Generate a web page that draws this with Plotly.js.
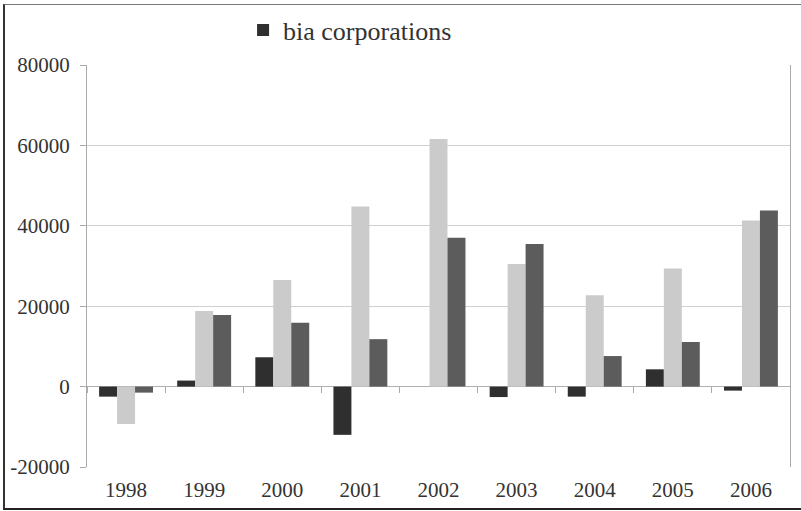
<!DOCTYPE html>
<html>
<head>
<meta charset="utf-8">
<script src="https://cdn.plot.ly/plotly-3.0.1.min.js"></script>
<style>
html,body{margin:0;padding:0;background:#fff;}
#wrap{position:relative;width:801px;height:511px;overflow:hidden;}
#chart{width:801px;height:511px;}
#frame{position:absolute;left:3px;top:4px;width:810px;height:506px;border-left:2px solid #333;border-top:1.5px solid #777;border-bottom:2px solid #222;pointer-events:none;box-sizing:border-box;}
</style>
</head>
<body>
<div id="wrap"><div id="chart"></div><div id="frame"></div></div>
<script>
// Data
const years = ["1998","1999","2000","2001","2002","2003","2004","2005","2006"];
const seriesDark   = [-2500, 1500, 7300, -12000, 0, -2600, -2500, 4300, -1000];
const seriesLight  = [-9300, 18800, 26500, 44800, 61600, 30500, 22700, 29400, 41300];
const seriesMedium = [-1500, 17800, 15900, 11800, 37000, 35500, 7600, 11100, 43800];
const seriesNames  = ["bia corporations", "series 2", "series 3"];
const yTickVals  = [-20000, 0, 20000, 40000, 60000, 80000];
const yTickText  = ["-20000", "0", "20000", "40000", "60000", "80000"];
const zeroRow    = years.map(() => 0);

const FONT = "Liberation Serif, Times New Roman, serif";

const traces = [
  {type:"bar", x:years, y:seriesDark, name:seriesNames[0], marker:{color:"#2f2f2f"}, showlegend:true},
  {type:"bar", x:years, y:seriesLight, name:seriesNames[1], marker:{color:"#cbcbcb"}, showlegend:false},
  {type:"bar", x:years, y:seriesMedium, name:seriesNames[2], marker:{color:"#5c5c5c"}, showlegend:false},
  {type:"scatter", mode:"none", x:years, y:zeroRow, xaxis:"x2", yaxis:"y", showlegend:false, hoverinfo:"skip"}
];

const layout = {
  width:801, height:511,
  margin:{l:87, r:11, t:65, b:44, autoexpand:false},
  paper_bgcolor:"#fff", plot_bgcolor:"#fff",
  font:{family:FONT, size:21, color:"#333"},
  barmode:"group", bargap:0.31, bargroupgap:0,
  showlegend:true,
  legend:{orientation:"h", x:0.222, xanchor:"left", y:1.145, yanchor:"top",
          font:{family:FONT, size:26, color:"#333"}, bgcolor:"rgba(0,0,0,0)"},
  xaxis:{type:"category", range:[-0.5,8.5], showline:false, showgrid:false, zeroline:false,
         ticks:"", ticklabelstandoff:8, tickfont:{family:FONT, size:21, color:"#333"}},
  xaxis2:{type:"category", overlaying:"x", anchor:"free", position:0.2015, side:"bottom",
          range:[-0.5,8.5], tickson:"boundaries", ticks:"outside", ticklen:6, tickcolor:"#aaa",
          tickwidth:1, showticklabels:false, showline:false, showgrid:false, zeroline:false},
  yaxis:{range:[-20000,80000], tickvals:yTickVals, ticktext:yTickText,
         showgrid:true, gridcolor:"#d0d0d0", gridwidth:1,
         zeroline:true, zerolinecolor:"#b0b0b0", zerolinewidth:1,
         showline:true, linecolor:"#aaa", linewidth:1, mirror:true,
         ticks:"outside", ticklen:6, tickcolor:"#aaa", ticklabelstandoff:6,
         tickfont:{family:FONT, size:21, color:"#333"}}
};

Plotly.newPlot("chart", traces, layout, {displayModeBar:false, staticPlot:true});
</script>
</body>
</html>
